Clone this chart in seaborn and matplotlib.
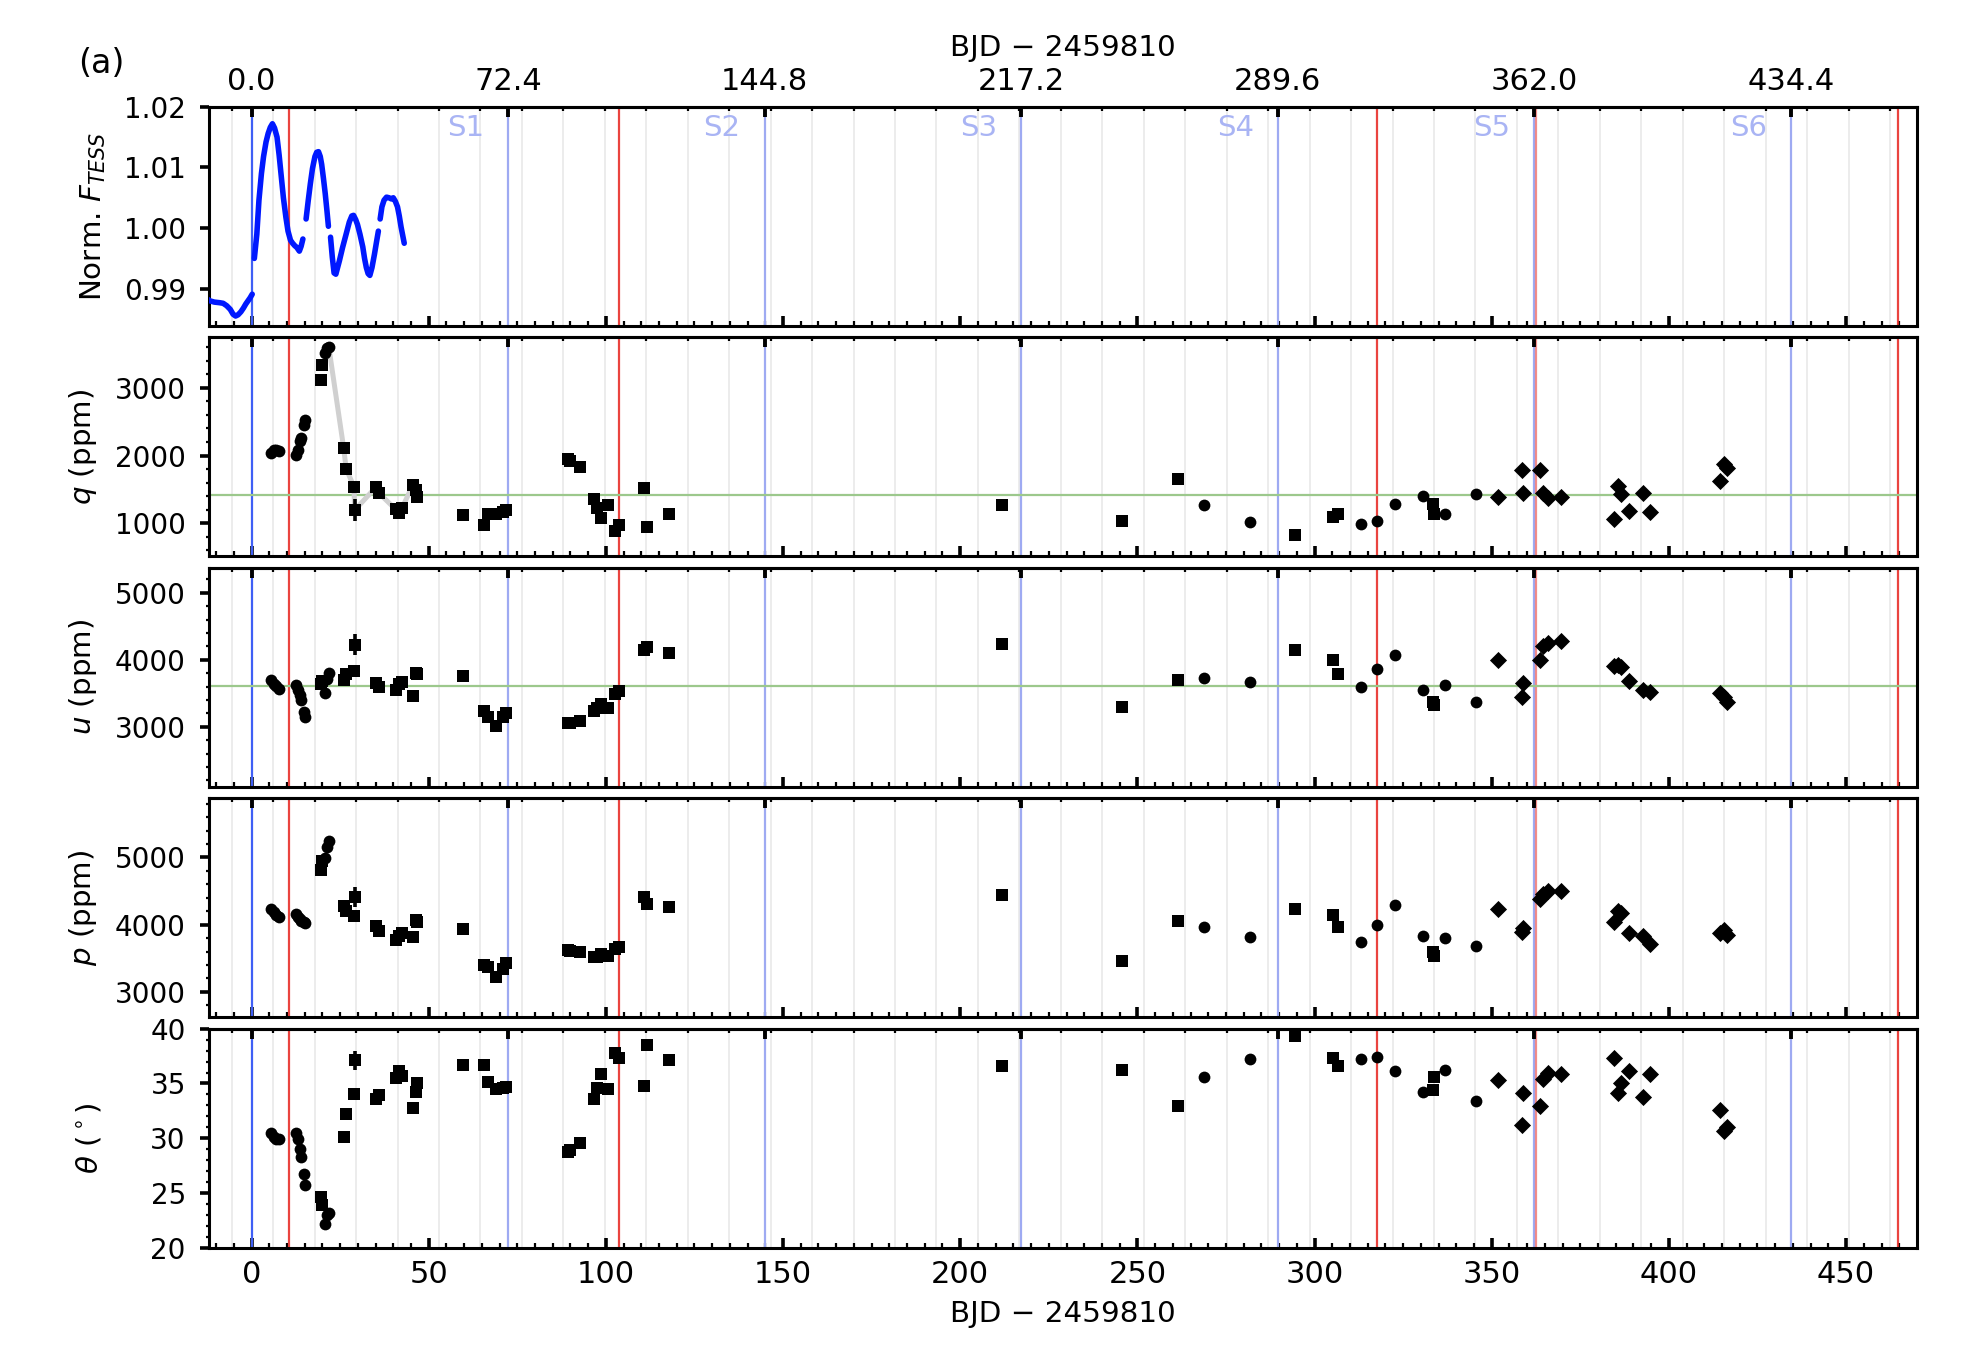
import numpy as np
import pandas as pd
import matplotlib
matplotlib.use("Agg")
import matplotlib.pyplot as plt
import matplotlib.transforms as mtransforms
from matplotlib.ticker import FixedLocator, MultipleLocator, FormatStrFormatter
import seaborn as sns

# ---------------- data ----------------
# TESS light curve, segments separated by gaps
tess_t = [-13.0, -11.7, -10.5, -9.0, -8.0, -7.0, -6.0, -5.2, -4.5, -3.8, -3.0, -2.3, -1.6, -1.0, -0.4, 0.2,
          0.8, 1.5, 2.1, 2.8, 3.4, 4.1, 4.7, 5.3, 5.9, 6.5, 7.2, 7.8, 8.4, 9.0, 9.7, 10.3, 11.0, 11.6, 12.2,
          12.8, 13.5, 14.0, 14.5,
          15.4, 16.0, 16.6, 17.2, 17.9, 18.4, 18.9, 19.4, 19.8, 20.3, 20.8, 21.3, 21.7,
          22.3, 22.8, 23.3, 23.8, 24.3, 24.8, 25.7, 26.7, 27.6, 28.3, 28.8, 29.4, 29.9, 30.6, 31.4, 31.9,
          32.4, 32.9, 33.4, 34.0, 34.7, 35.3, 35.8,
          36.3, 36.8, 37.4, 38.1, 38.8, 39.5, 40.0, 40.6, 41.2, 41.7, 42.2, 42.7, 43.1]
tess_f = [0.9885, 0.9880, 0.9878, 0.9877, 0.9876, 0.9872, 0.9866, 0.9858, 0.9855, 0.9857, 0.9862, 0.9868,
          0.9875, 0.9880, 0.9885, 0.9891,
          0.9950, 0.9990, 1.0046, 1.0090, 1.0118, 1.0142, 1.0156, 1.0166, 1.0172, 1.0165, 1.0150, 1.0120,
          1.0085, 1.0050, 1.0018, 0.9995, 0.9980, 0.9975, 0.9971, 0.9968, 0.9962, 0.9970, 0.9982,
          1.0015, 1.0045, 1.0073, 1.0098, 1.0118, 1.0125, 1.0126, 1.0118, 1.0105, 1.0082, 1.0057, 1.0028, 1.0003,
          0.9985, 0.9952, 0.9926, 0.9924, 0.9935, 0.9946, 0.9968, 0.9990, 1.0010, 1.0020, 1.0021, 1.0014,
          1.0006, 0.9990, 0.9969, 0.9950, 0.9935, 0.9925, 0.9922, 0.9935, 0.9957, 0.9978, 0.9995,
          1.0015, 1.0035, 1.0046, 1.0051, 1.0050, 1.0048, 1.0050, 1.0044, 1.0035, 1.0020, 1.0002, 0.9987, 0.9975]
tess_seg = [0] * 16 + [1] * 23 + [2] * 13 + [3] * 23 + [4] * 13

# circles
c_t = [5.5, 6.3, 6.9, 7.8, 12.6, 13.1, 13.7, 14.1, 14.8, 15.1, 20.8, 21.3, 21.8,
       268.8, 281.9, 313.0, 317.6, 322.8, 330.6, 336.9, 345.7]
c_q = [2040, 2075, 2085, 2070, 2015, 2089, 2212, 2261, 2458, 2532, 3517, 3590, 3610,
       1266, 1010, 990, 1030, 1286, 1399, 1138, 1438]
c_u = [3705, 3645, 3605, 3566, 3620, 3556, 3471, 3397, 3223, 3149, 3506, 3720, 3800,
       3734, 3670, 3596, 3859, 4077, 3556, 3620, 3372]
c_p = [4233, 4183, 4149, 4119, 4158, 4119, 4084, 4060, 4045, 4025, 4990, 5150, 5248,
       3960, 3822, 3738, 4000, 4292, 3827, 3802, 3678]
c_th = [30.5, 30.1, 29.95, 29.9, 30.5, 29.9, 29.0, 28.3, 26.7, 25.7, 22.2, 23.0, 23.2,
        35.6, 37.2, 37.25, 37.4, 36.1, 34.25, 36.2, 33.4]

# squares
s_t = [19.6, 19.9, 26.0, 26.7, 28.9, 29.1, 35.2, 35.9, 40.7, 41.6, 42.5, 45.6, 46.5, 46.8,
       59.6, 65.6, 66.8, 69.0, 70.9, 71.9, 89.2, 89.9, 92.7, 96.7, 97.5, 98.6, 100.5, 102.6,
       103.7, 110.7, 111.5, 117.7, 211.7, 245.7, 261.6, 294.5, 305.3, 306.5, 333.4, 333.7]
s_q = [3123, 3345, 2113, 1808, 1537, 1192, 1537, 1448, 1202, 1153, 1227, 1571, 1483, 1389,
       1113, 966, 1128, 1138, 1167, 1187, 1956, 1916, 1833, 1360, 1227, 1079, 1261, 882,
       966, 1522, 946, 1138, 1270, 1030, 1655, 823, 1094, 1138, 1276, 1138]
s_u = [3645, 3680, 3705, 3784, 3829, 4226, 3655, 3596, 3556, 3645, 3665, 3457, 3804, 3790,
       3754, 3233, 3149, 3010, 3149, 3199, 3050, 3060, 3084, 3238, 3280, 3337, 3288, 3496,
       3531, 4151, 4191, 4102, 4228, 3298, 3705, 4141, 3993, 3794, 3370, 3320]
s_p = [4812, 4950, 4282, 4208, 4134, 4406, 3985, 3911, 3772, 3837, 3871, 3812, 4069, 4040,
       3936, 3401, 3366, 3218, 3342, 3426, 3624, 3610, 3599, 3515, 3520, 3564, 3530, 3639,
       3673, 4416, 4307, 4267, 4437, 3465, 4059, 4233, 4149, 3960, 3590, 3530]
s_th = [24.6, 23.9, 30.1, 32.2, 34.0, 37.1, 33.6, 33.95, 35.5, 36.1, 35.7, 32.8, 34.2, 35.0,
        36.7, 36.7, 35.1, 34.5, 34.6, 34.7, 28.7, 28.9, 29.6, 33.6, 34.6, 35.9, 34.5, 37.8,
        37.3, 34.8, 38.55, 37.1, 36.55, 36.2, 32.9, 39.3, 37.3, 36.6, 34.4, 35.6]

# diamonds
d_t = [351.7, 358.5, 358.7, 363.5, 364.6, 365.8, 369.6, 384.6, 385.7, 386.5, 388.7, 392.7,
       394.7, 414.5, 415.6, 416.4]
d_q = [1389, 1783, 1448, 1783, 1448, 1374, 1389, 1054, 1547, 1424, 1177, 1448, 1163, 1621, 1882, 1818]
d_u = [3993, 3447, 3655, 3993, 4201, 4251, 4275, 3903, 3918, 3890, 3685, 3546, 3521, 3506, 3447, 3372]
d_p = [4233, 3886, 3950, 4381, 4455, 4495, 4505, 4045, 4208, 4168, 3876, 3837, 3713, 3871, 3927, 3847]
d_th = [35.3, 31.2, 34.1, 32.9, 35.4, 36.0, 35.9, 37.3, 34.1, 35.0, 36.1, 33.8, 35.9, 32.6, 30.7, 31.0]

# point with a visible error bar (index into squares) and its errors
err_idx = 5
err_q, err_u, err_p, err_th = 160, 160, 150, 0.9

# light grey connecting line in the q panel
qline_t = [21.8, 26.0, 26.7, 28.9, 29.1, 35.2, 35.9, 40.7, 41.6, 42.5, 45.6]
qline_q = [3610, 2113, 1808, 1537, 1192, 1537, 1448, 1202, 1153, 1227, 1571]

# reference levels
q_ref = 1414
u_ref = 3605

# event epochs
rot_epochs = [0.0, 72.4, 144.8, 217.2, 289.6, 362.0, 434.4]
red_events = [10.7, 103.7, 317.6, 362.6, 464.6]
season_labels = ["S1", "S2", "S3", "S4", "S5", "S6"]
grid_start, grid_step = -5.6, 11.7

# ---------------- style ----------------
sns.set_theme(style="white")
plt.rcParams["font.family"] = ["DejaVu Sans"]
plt.rcParams.update({
    "font.size": 10,
    "mathtext.fontset": "dejavusans",
    "axes.linewidth": 1.1,
    "axes.edgecolor": "black",
    "xtick.color": "black",
    "ytick.color": "black",
    "axes.labelcolor": "black",
    "text.color": "black",
    "xtick.labelsize": 11,
    "ytick.labelsize": 10,
})
LABEL_FS = 10.6

XLIM = (-12.1, 469.9)
grid_pos = np.arange(grid_start, XLIM[1], grid_step)

fig, axes = plt.subplots(5, 1, sharex=True, figsize=(9.86, 6.74), dpi=200)
fig.subplots_adjust(left=0.1058, right=0.9719, top=0.9208, bottom=0.0744, hspace=0.0525)

blue_strong = "#3f5ff5"
blue_light = "#9eaaf2"
red_c = "#e8302a"

for i, ax in enumerate(axes):
    ax.set_xlim(*XLIM)
    for g in grid_pos:
        ax.axvline(g, color="#e9e9e9", lw=0.6, zorder=0)
    for k, e in enumerate(rot_epochs):
        ax.axvline(e, color=blue_strong if k == 0 else blue_light, lw=0.8, zorder=1)
    for k, e in enumerate(red_events):
        ax.axvline(e, color=red_c, lw=0.8, alpha=0.55 if k == 3 else 0.9, zorder=1)

    ax.xaxis.set_major_locator(MultipleLocator(50))
    ax.xaxis.set_minor_locator(MultipleLocator(5))
    ax.tick_params(axis="x", which="both", direction="in", top=False, bottom=True, pad=4.5)
    ax.tick_params(axis="x", which="major", length=3.6, width=1.3)
    ax.tick_params(axis="x", which="minor", length=1.8, width=0.8)
    ax.tick_params(axis="y", which="both", direction="out", left=True, right=False, pad=5)
    ax.tick_params(axis="y", which="major", length=3.2, width=1.3)
    ax.tick_params(axis="y", which="minor", length=1.2, width=0.8)
    if i < 4:
        ax.tick_params(axis="x", labelbottom=False)

    sec = ax.secondary_xaxis("top")
    sec.set_zorder(10)
    sec.xaxis.set_major_locator(FixedLocator(rot_epochs))
    sec.xaxis.set_minor_locator(FixedLocator(list(grid_pos)))
    sec.tick_params(which="major", direction="in", length=3.6, width=1.4, pad=3.8)
    sec.tick_params(which="minor", direction="in", length=1.5, width=0.8)
    sec.spines["top"].set_linewidth(1.1)
    if i == 0:
        sec.xaxis.set_major_formatter(FormatStrFormatter("%.1f"))
        sec.set_xlabel("BJD \u2212 2459810", labelpad=4, fontsize=LABEL_FS)
    else:
        sec.tick_params(labeltop=False)

# ---- panel (a): TESS light curve
ax0 = axes[0]
lc = pd.DataFrame({"t": tess_t, "f": tess_f, "seg": tess_seg})
sns.lineplot(data=lc, x="t", y="f", units="seg", estimator=None, sort=False,
             color="#0018ff", lw=2.0, ax=ax0, zorder=3)
ax0.set_ylim(0.9839, 1.02)
ax0.yaxis.set_major_locator(FixedLocator([0.99, 1.00, 1.01, 1.02]))
ax0.yaxis.set_major_formatter(FormatStrFormatter("%.2f"))
ax0.set_ylabel("Norm. $F_{TESS}$", fontsize=LABEL_FS)
ax0.set_xlabel("")
trans = mtransforms.blended_transform_factory(ax0.transData, ax0.transAxes)
for lab, e in zip(season_labels, rot_epochs[1:]):
    ax0.text(e - 12, 0.905, lab, transform=trans, color="#a9b4f4", ha="center", va="center", fontsize=10.5)

# ---- polarization panels
panels = [
    (axes[1], c_q, s_q, d_q, "$q$ (ppm)", (510, 3750), [1000, 2000, 3000], 200, err_q, q_ref),
    (axes[2], c_u, s_u, d_u, "$u$ (ppm)", (2107, 5372), [3000, 4000, 5000], 200, err_u, u_ref),
    (axes[3], c_p, s_p, d_p, "$p$ (ppm)", (2624, 5881), [3000, 4000, 5000], 200, err_p, None),
    (axes[4], c_th, s_th, d_th, r"$\theta$ ($^\circ$)", (20, 40), [20, 25, 30, 35, 40], 1, err_th, None),
]
for ax, cv, sv, dv, lab, ylim, ticks, minor, err, ref in panels:
    if ref is not None:
        ax.axhline(ref, color="#9cc88c", lw=0.8, zorder=1)
    if ax is axes[1]:
        sns.lineplot(x=qline_t, y=qline_q, sort=False, color="#d0d0d0", lw=1.8, ax=ax, zorder=2)
    sns.scatterplot(x=c_t, y=cv, marker="o", color="black", s=18, linewidth=0, ax=ax, zorder=4)
    sns.scatterplot(x=s_t, y=sv, marker="s", color="black", s=17, linewidth=0, ax=ax, zorder=4)
    sns.scatterplot(x=d_t, y=dv, marker="D", color="black", s=19, linewidth=0, ax=ax, zorder=4)
    ax.errorbar([s_t[err_idx]], [sv[err_idx]], yerr=[err], fmt="none", ecolor="black",
                elinewidth=1.3, capsize=0, zorder=4)
    ax.set_ylim(*ylim)
    ax.yaxis.set_major_locator(FixedLocator(ticks))
    ax.yaxis.set_minor_locator(MultipleLocator(minor))
    ax.set_ylabel(lab, fontsize=LABEL_FS)

for ax, xc in zip(axes, [-0.0678, -0.0736, -0.0736, -0.0736, -0.0701]):
    ax.yaxis.label.set_va("center")
    ax.yaxis.set_label_coords(xc, 0.5)

axes[4].set_xlabel("BJD \u2212 2459810", labelpad=4, fontsize=LABEL_FS)
fig.text(0.0395, 0.953, "(a)", fontsize=12, ha="left", va="center")

fig.savefig("out.png", dpi=200)
